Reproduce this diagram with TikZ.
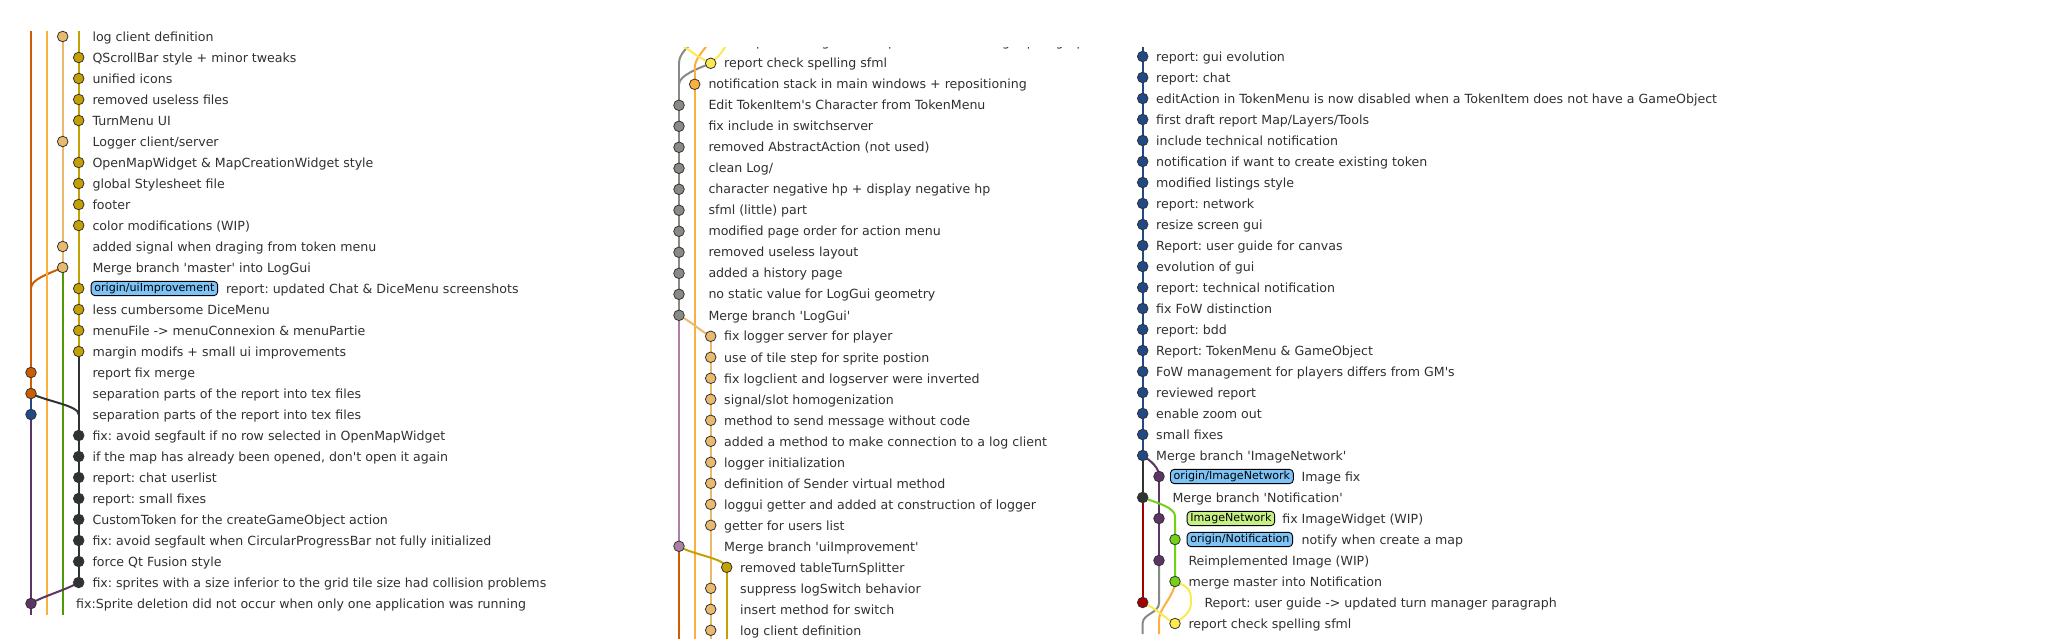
\documentclass[tikz,border=0pt]{standalone}
\usepackage{fontspec}
\setmainfont{DejaVu Sans}
\frenchspacing
\newcommand\qq{\textquotesingle}
\definecolor{cTan}{HTML}{E9B96E}
\definecolor{cGold}{HTML}{C4A000}
\definecolor{cDOr}{HTML}{CE5C00}
\definecolor{cLOr}{HTML}{FCAF3E}
\definecolor{cBlue}{HTML}{204A87}
\definecolor{cDGray}{HTML}{2E3436}
\definecolor{cPurp}{HTML}{5C3566}
\definecolor{cGray}{HTML}{888A85}
\definecolor{cYel}{HTML}{FCE94F}
\definecolor{cLil}{HTML}{AD7FA8}
\definecolor{cRed}{HTML}{A40000}
\definecolor{cGreen}{HTML}{73D216}
\definecolor{cDGreen}{HTML}{4E9A06}
\definecolor{cBadge}{HTML}{7DC3F5}
\definecolor{cBadgeG}{HTML}{C6EF84}
\definecolor{cTxt}{HTML}{303030}
\begin{document}
\begin{tikzpicture}[x=1pt,y=-1pt,
  cdot/.style={circle,draw=black!80,line width=0.8pt,inner sep=0pt,minimum size=10.6pt},
  msg/.style={anchor=base west,inner sep=0pt,text=cTxt,font=\fontsize{12.6}{14}\selectfont\frenchspacing},
  badge/.style={anchor=west,draw=black,line width=0.9pt,rounded corners=3.8pt,inner xsep=3.2pt,inner ysep=0pt,minimum height=14.3pt,text height=8.1pt,text depth=2.3pt,font=\fontsize{11.1}{13}\selectfont},
  ln/.style={line width=2pt},
]
\useasboundingbox (0,0) rectangle (2064,644);

% ================= LEFT PANEL =================
\def\La{31}\def\Lb{46.7}\def\Lc{62.7}\def\Ld{78.7}
\foreach \r/\x in {0/\Lc,1/\Ld,2/\Ld,3/\Ld,4/\Ld,5/\Lc,6/\Ld,7/\Ld,8/\Ld,9/\Ld,10/\Lc,11/\Lc,12/\Ld,13/\Ld,14/\Ld,15/\Ld,16/\La,17/\La,18/\La,19/\Ld,20/\Ld,21/\Ld,22/\Ld,23/\Ld,24/\Ld,25/\Ld,26/\Ld,27/\La}
  {\coordinate (L\r) at (\x,{36.5+21*\r});}
\coordinate (LtA) at (\La,31); \coordinate (LtB) at (\Lb,31); \coordinate (LtD) at (\Ld,31);
\coordinate (LbA) at (\La,615); \coordinate (LbB) at (\Lb,615); \coordinate (LbC) at (\Lc,615);
\coordinate (LjA) at (\La,{36.5+21*12});
\coordinate (LjD) at (\Ld,{36.5+21*18});

\draw[ln,cDOr] (LtA) -- (L17);
\draw[ln,cDOr] (L11) .. controls +(-16,7) and +(0,-9) .. (LjA);
\draw[ln,cLOr] (LtB) -- (LbB);
\draw[ln,cTan] (L0) -- (L11);
\draw[ln,cDGreen] (L11) -- (LbC);
\draw[ln,cGold] (LtD) -- (L15);
\draw[ln,cDGray] (L15) -- (L26);
\draw[ln,cDGray] (L17) .. controls +(16,8) and +(0,-9) .. (LjD);
\draw[ln,cBlue] (L17) -- (L18);
\draw[ln,cPurp] (L18) -- (LbA);
\draw[ln,cPurp] (L26) .. controls +(-14,8) and +(11,-7) .. (L27);

\foreach \r/\c in {0/cTan,1/cGold,2/cGold,3/cGold,4/cGold,5/cTan,6/cGold,7/cGold,8/cGold,9/cGold,10/cTan,11/cTan,12/cGold,13/cGold,14/cGold,15/cGold,16/cDOr,17/cDOr,18/cBlue,19/cDGray,20/cDGray,21/cDGray,22/cDGray,23/cDGray,24/cDGray,25/cDGray,26/cDGray,27/cPurp}
  {\node[cdot,fill=\c] (Ld\r) at (L\r) {};}

\foreach \r/\x/\m in {
 0/92.3/{log client definition},
 1/92.3/{QScrollBar style + minor tweaks},
 2/92.3/{unified icons},
 3/92.3/{removed useless files},
 4/92.3/{TurnMenu UI},
 5/92.3/{Logger client/server},
 6/92.3/{OpenMapWidget \& MapCreationWidget style},
 7/92.3/{global Stylesheet file},
 8/92.3/{footer},
 9/92.3/{color modifications (WIP)},
 10/92.3/{added signal when draging from token menu},
 11/92.3/{Merge branch \qq master\qq{} into LogGui},
 13/92.3/{less cumbersome DiceMenu},
 14/92.3/{menuFile -> menuConnexion \& menuPartie},
 15/92.3/{margin modifs + small ui improvements},
 16/92.3/{report fix merge},
 17/92.3/{separation parts of the report into tex files},
 18/92.3/{separation parts of the report into tex files},
 19/92.3/{fix: avoid segfault if no row selected in OpenMapWidget},
 20/92.3/{if the map has already been opened, don\qq t open it again},
 21/92.3/{report: chat userlist},
 22/92.3/{report: small fixes},
 23/92.3/{CustomToken for the createGameObject action},
 24/92.3/{fix: avoid segfault when CircularProgressBar not fully initialized},
 25/92.3/{force Qt Fusion style},
 26/92.3/{fix: sprites with a size inferior to the grid tile size had collision problems},
 27/76/{fix:Sprite deletion did not occur when only one application was running}}
  {\node[msg] (Lt\r) at (\x,{36.5+21*\r+4.7}) {\m};}
\node[badge,fill=cBadge] (Lb12) at (90.7,{36.5+21*12}) {origin/uiImprovement};
\node[msg] (Lt12) at ([xshift=7.7pt,yshift=-4.7pt]Lb12.east) {report: updated Chat \& DiceMenu screenshots};

% ================= MIDDLE PANEL =================
\def\Ma{679}\def\Mb{694.7}\def\Mc{710.7}\def\Md{726.7}
\begin{scope}
\clip (650,47.5) rectangle (1110,638);
\foreach \r/\x in {1/\Mc,2/\Mb,3/\Ma,4/\Ma,5/\Ma,6/\Ma,7/\Ma,8/\Ma,9/\Ma,10/\Ma,11/\Ma,12/\Ma,13/\Ma,14/\Mc,15/\Mc,16/\Mc,17/\Mc,18/\Mc,19/\Mc,20/\Mc,21/\Mc,22/\Mc,23/\Mc,24/\Ma,25/\Md,26/\Mc,27/\Mc,28/\Mc}
  {\coordinate (M\r) at (\x,{42.3+21*\r});}
\coordinate (M0a) at (\Ma,42.3); \coordinate (M0b) at (\Mb,40); \coordinate (M0c) at (\Mc,40); \coordinate (M0d) at (\Md,42.3);
\coordinate (MjA) at (\Ma,63.3); \coordinate (MjA2) at (\Ma,84.3); \coordinate (MjB) at (\Mb,68);
\coordinate (MbA) at (\Ma,640); \coordinate (MbB) at (\Mb,640); \coordinate (MbC) at (\Mc,640); \coordinate (MbD) at (\Md,640);

\draw[ln,cGray] (M0b) .. controls +(-8,8) and +(0,-9) .. (MjA);
\draw[ln,cLOr] (M0c) .. controls +(-6,10) and +(0,-10) .. (MjB);
\draw[ln,cYel] (M0a) .. controls +(8,7) and +(-9,-4) .. (M1);
\draw[ln,cYel] (M0d) .. controls +(-2,8) and +(7,-6) .. (M1);
\draw[ln,cGray] (M1) .. controls +(-12,5) and +(0,-9) .. (MjA2);
\draw[ln,cGray] (MjA) -- (M13);
\draw[ln,cLil] (M13) -- (M24);
\draw[ln,cDOr] (M24) -- (MbA);
\draw[ln,cLOr] (MjB) -- (MbB);
\draw[ln,cTan] (M13) .. controls +(12,6) and +(-10,-5) .. (M14);
\draw[ln,cTan] (M14) -- (MbC);
\draw[ln,cGold] (M24) .. controls +(12,8) and +(-2,-9) .. (M25);
\draw[ln,cGold] (M25) -- (MbD);

\foreach \r/\c in {1/cYel,2/cLOr,3/cGray,4/cGray,5/cGray,6/cGray,7/cGray,8/cGray,9/cGray,10/cGray,11/cGray,12/cGray,13/cGray,14/cTan,15/cTan,16/cTan,17/cTan,18/cTan,19/cTan,20/cTan,21/cTan,22/cTan,23/cTan,24/cLil,25/cGold,26/cTan,27/cTan,28/cTan}
  {\node[cdot,fill=\c] (Md\r) at (M\r) {};}

\foreach \r/\x/\m in {
 0/740/{Report: user guide -> updated turn manager paragraph},
 1/724/{report check spelling sfml},
 2/708.3/{notification stack in main windows + repositioning},
 3/708.3/{Edit TokenItem\qq s Character from TokenMenu},
 4/708.3/{fix include in switchserver},
 5/708.3/{removed AbstractAction (not used)},
 6/708.3/{clean Log/},
 7/708.3/{character negative hp + display negative hp},
 8/708.3/{sfml (little) part},
 9/708.3/{modified page order for action menu},
 10/708.3/{removed useless layout},
 11/708.3/{added a history page},
 12/708.3/{no static value for LogGui geometry},
 13/708.3/{Merge branch \qq LogGui\qq},
 14/724/{fix logger server for player},
 15/724/{use of tile step for sprite postion},
 16/724/{fix logclient and logserver were inverted},
 17/724/{signal/slot homogenization},
 18/724/{method to send message without code},
 19/724/{added a method to make connection to a log client},
 20/724/{logger initialization},
 21/724/{definition of Sender virtual method},
 22/724/{loggui getter and added at construction of logger},
 23/724/{getter for users list},
 24/724/{Merge branch \qq uiImprovement\qq},
 25/740/{removed tableTurnSplitter},
 26/740/{suppress logSwitch behavior},
 27/740/{insert method for switch},
 28/740/{log client definition}}
  {\node[msg] (Mt\r) at (\x,{42.3+21*\r+4.7}) {\m};}
\end{scope}

% ================= RIGHT PANEL =================
\def\Ra{1142.7}\def\Rb{1159}\def\Rc{1175}\def\Rd{1191}
\foreach \r/\x in {0/\Ra,1/\Ra,2/\Ra,3/\Ra,4/\Ra,5/\Ra,6/\Ra,7/\Ra,8/\Ra,9/\Ra,10/\Ra,11/\Ra,12/\Ra,13/\Ra,14/\Ra,15/\Ra,16/\Ra,17/\Ra,18/\Ra,19/\Ra,20/\Rb,21/\Ra,22/\Rb,23/\Rc,24/\Rb,25/\Rc,26/\Ra,27/\Rc}
  {\coordinate (R\r) at (\x,{56.5+21*\r});}
\coordinate (RtA) at (\Ra,46.7);
\coordinate (RjC) at (\Rc,{56.5+21*22-2});
\coordinate (RkB) at (\Rb,603);
\coordinate (RkA) at (\Ra,623);
\coordinate (RbA) at (\Ra,634);
\coordinate (RkB2) at (\Rb,620);
\coordinate (RbB) at (\Rb,634);
\coordinate (RjD) at (\Rd,{56.5+21*26});

\draw[ln,cBlue] (RtA) -- (R19);
\draw[ln,cDGray] (R19) -- (R21);
\draw[ln,cPurp] (R19) .. controls +(9,6) and +(0,-9) .. (R20);
\draw[ln,cPurp] (R20) -- (R24);
\draw[ln,cGray] (R24) -- (RkB) .. controls +(0,10) and +(0,-9) .. (RkA) -- (RbA);
\draw[ln,cRed] (R21) -- (R26);
\draw[ln,cGreen] (R21) .. controls +(16,6) and +(0,-9) .. (RjC) -- (R25);
\draw[ln,cLOr] (R25) .. controls +(0,14) and +(0,-12) .. (RkB2) -- (RbB);
\draw[ln,cYel] (R25) .. controls +(14,5) and +(0,-12) .. (RjD) .. controls +(0,10) and +(8,-6) .. (R27);
\draw[ln,cYel] (R26) .. controls +(14,6) and +(-10,-5) .. (R27);

\foreach \r/\c in {0/cBlue,1/cBlue,2/cBlue,3/cBlue,4/cBlue,5/cBlue,6/cBlue,7/cBlue,8/cBlue,9/cBlue,10/cBlue,11/cBlue,12/cBlue,13/cBlue,14/cBlue,15/cBlue,16/cBlue,17/cBlue,18/cBlue,19/cBlue,20/cPurp,21/cDGray,22/cPurp,23/cGreen,24/cPurp,25/cGreen,26/cRed,27/cYel}
  {\node[cdot,fill=\c] (Rd\r) at (R\r) {};}

\foreach \r/\x/\m in {
 0/1156/{report: gui evolution},
 1/1156/{report: chat},
 2/1156/{editAction in TokenMenu is now disabled when a TokenItem does not have a GameObject},
 3/1156/{first draft report Map/Layers/Tools},
 4/1156/{include technical notification},
 5/1156/{notification if want to create existing token},
 6/1156/{modified listings style},
 7/1156/{report: network},
 8/1156/{resize screen gui},
 9/1156/{Report: user guide for canvas},
 10/1156/{evolution of gui},
 11/1156/{report: technical notification},
 12/1156/{fix FoW distinction},
 13/1156/{report: bdd},
 14/1156/{Report: TokenMenu \& GameObject},
 15/1156/{FoW management for players differs from GM\qq s},
 16/1156/{reviewed report},
 17/1156/{enable zoom out},
 18/1156/{small fixes},
 19/1156/{Merge branch \qq ImageNetwork\qq},
 21/1172.3/{Merge branch \qq Notification\qq},
 24/1188.3/{Reimplemented Image (WIP)},
 25/1188.3/{merge master into Notification},
 26/1204.3/{Report: user guide -> updated turn manager paragraph},
 27/1188.3/{report check spelling sfml}}
  {\node[msg] (Rt\r) at (\x,{56.5+21*\r+4.7}) {\m};}
\node[badge,fill=cBadge] (Rb20) at (1170,{56.5+21*20}) {origin/ImageNetwork};
\node[msg] (Rt20) at ([xshift=7.6pt,yshift=-4.7pt]Rb20.east) {Image fix};
\node[badge,fill=cBadgeG] (Rb22) at (1186.7,{56.5+21*22}) {ImageNetwork};
\node[msg] (Rt22) at ([xshift=7pt,yshift=-4.7pt]Rb22.east) {fix ImageWidget (WIP)};
\node[badge,fill=cBadge] (Rb23) at (1186.7,{56.5+21*23}) {origin/Notification};
\node[msg] (Rt23) at ([xshift=8.4pt,yshift=-4.7pt]Rb23.east) {notify when create a map};
\end{tikzpicture}
\end{document}
